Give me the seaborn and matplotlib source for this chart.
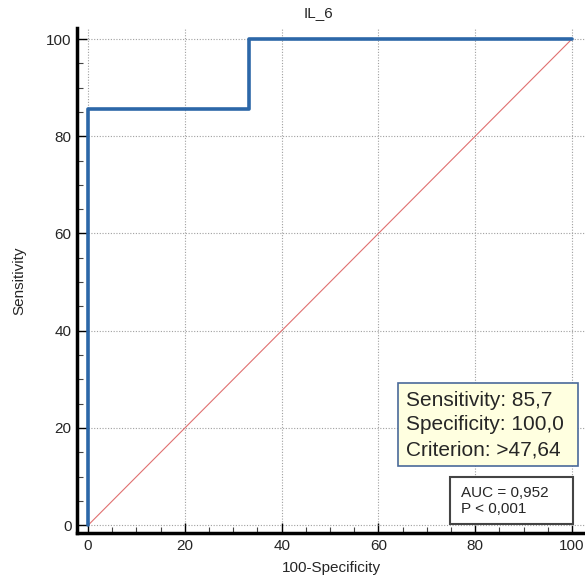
import matplotlib
matplotlib.use("Agg")
import matplotlib.pyplot as plt
import seaborn as sns
import pandas as pd
from matplotlib.ticker import MultipleLocator
from matplotlib.patches import Rectangle

sns.set_theme(style="white")
plt.rcParams['font.family'] = ['Liberation Sans', 'DejaVu Sans']

# Data
fpr = [0, 0, 33.33, 33.33, 100]
tpr = [0, 85.7, 85.7, 100, 100]
diag_x = [0, 100]
diag_y = [0, 100]
title = "IL_6"
info_lines = ["Sensitivity: 85,7", "Specificity: 100,0", "Criterion: >47,64"]
auc_lines = ["AUC = 0,952", "P < 0,001"]

roc = pd.DataFrame({"x": fpr, "y": tpr})
ref = pd.DataFrame({"x": diag_x, "y": diag_y})

W, H = 585, 582
fig = plt.figure(figsize=(W / 100, H / 100), dpi=100)
ax = fig.add_axes([0.1316, 0.0842, 0.8684, 0.868])

sns.lineplot(data=ref, x="x", y="y", ax=ax, color="#e07070", linewidth=0.8,
             sort=False, estimator=None, zorder=2)
sns.lineplot(data=roc, x="x", y="y", ax=ax, color="#2c67a8", linewidth=2.6,
             sort=False, estimator=None, zorder=3)

ax.set_xlim(-2.3, 102.7)
ax.set_ylim(-1.6, 102.3)
ax.xaxis.set_major_locator(MultipleLocator(20))
ax.yaxis.set_major_locator(MultipleLocator(20))
ax.xaxis.set_minor_locator(MultipleLocator(5))
ax.yaxis.set_minor_locator(MultipleLocator(5))
ax.grid(True, which="major", linestyle=(0, (1, 1.5)), color="#a0a0a0", linewidth=0.8)
ax.tick_params(which="major", direction="in", length=7, width=1, color="black",
               labelsize=11, bottom=True, left=True, pad=4)
ax.tick_params(which="minor", direction="in", length=4, width=0.8, color="#444444",
               bottom=True, left=True)
for s in ["top", "right"]:
    ax.spines[s].set_visible(False)
for s in ["left", "bottom"]:
    ax.spines[s].set_color("black")
    ax.spines[s].set_linewidth(2.5)

ax.set_xlabel("100-Specificity", fontsize=11, labelpad=6)
ax.set_ylabel("Sensitivity", fontsize=11, labelpad=14)
fig.text(0.545, 0.978, title, ha="center", va="center", fontsize=11)

# Info box (yellow)
fig.patches.append(Rectangle((398 / W, 1 - 466 / H), 180 / W, 83 / H,
                             transform=fig.transFigure, facecolor="#ffffe0",
                             edgecolor="#4a6a9a", linewidth=1.2, zorder=5))
fig.text(406 / W, 1 - 425 / H, "\n".join(info_lines), fontsize=15, ha="left",
         va="center", linespacing=1.4, zorder=6)

# AUC box
fig.patches.append(Rectangle((450 / W, 1 - 524 / H), 123 / W, 47 / H,
                             transform=fig.transFigure, facecolor="white",
                             edgecolor="#444444", linewidth=1.5, zorder=5))
fig.text(461 / W, 1 - 501 / H, "\n".join(auc_lines), fontsize=11, ha="left",
         va="center", linespacing=1.25, zorder=6)

fig.savefig("out.png", dpi=100)
